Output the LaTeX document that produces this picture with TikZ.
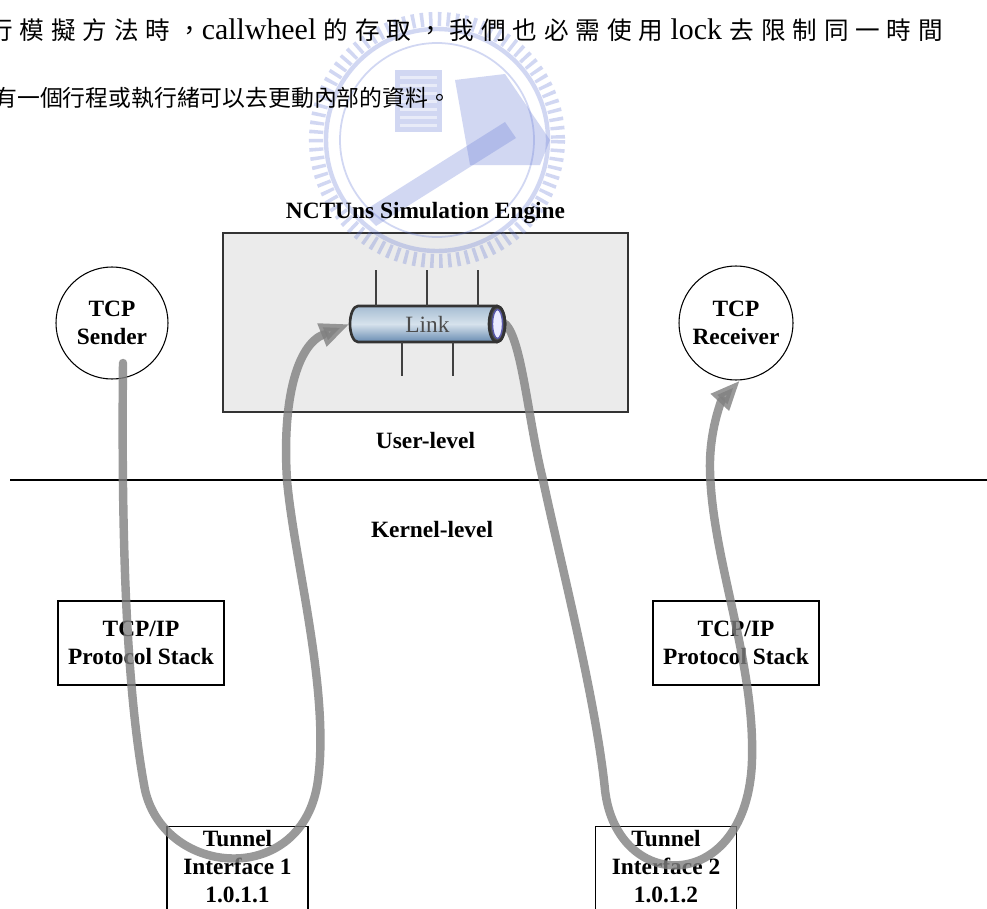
\documentclass[tikz,border=0pt]{standalone}
\usepackage{fontspec}
\setmainfont{Liberation Serif}
\newfontfamily\zhfont{Noto Sans CJK TC}
\newfontfamily\zhwidefont[LetterSpace=28]{Noto Sans CJK TC}
\usetikzlibrary{arrows.meta,calc,backgrounds,positioning}
\pgfdeclarelayer{front}
\pgfsetlayers{background,main,front}

\definecolor{boxgray}{RGB}{235,235,235}
\definecolor{flowgray}{RGB}{128,128,128}
\definecolor{logoblue}{RGB}{105,125,215}
\definecolor{pipetop}{RGB}{165,188,210}
\definecolor{pipemid}{RGB}{214,226,236}
\definecolor{pipebot}{RGB}{105,140,178}
\newcommand{\px}{0.02cm}
\newcommand{\lblfont}{\fontsize{13.3}{16}\selectfont\bfseries}
\newcommand{\zh}{\zhfont\fontsize{13}{20}\selectfont}
\newcommand{\zhw}{\zhwidefont\fontsize{14}{20}\selectfont}

\begin{document}
\begin{tikzpicture}[x=\px, y=-\px,
  lbl/.style={font=\lblfont, align=center, inner sep=0},
  engine/.style={draw=black!80, fill=boxgray, line width=.8pt, minimum width=405*\px, minimum height=179*\px, inner sep=0},
  proc/.style={circle, draw, line width=.6pt, font=\lblfont, align=center, minimum size=112*\px, inner sep=0},
  stack/.style={draw, line width=.6pt, font=\lblfont, align=center, minimum width=166*\px, minimum height=84*\px, inner sep=0},
  tunnel/.style={draw, line width=.6pt, font=\lblfont, align=center, minimum width=141*\px, anchor=north, inner xsep=0, inner ysep=2pt},
  flow/.style={draw=flowgray, opacity=.8, line width=4.8pt, line cap=round, -{Triangle[length=17pt,width=13pt]}},
  stub/.style={draw=black!75, line width=.7pt}]
\useasboundingbox (0,0) rectangle (987,909);
\clip (0,0) rectangle (987,909);

\begin{scope}[on background layer]
\fill[white] (0,0) rectangle (987,909);
\node[engine] (engine) at (425.5,322.5) {};
% school emblem behind the text
\begin{scope}[logoblue, opacity=.3]
\draw[line width=8pt, dash pattern=on 2pt off 3pt] (437,140) circle (121);
\draw[line width=2.5pt] (437,140) circle (111);
\draw[line width=1pt] (437,140) circle (97);
\fill (395,70) rectangle (442,132);
\fill (455,80) -- (505,74) -- (550,140) -- (540,165) -- (470,165) -- cycle;
\fill (362,212) -- (505,122) -- (516,138) -- (376,226) -- cycle;
\end{scope}
\foreach \yy in {76,84,...,124}
  \fill[white, opacity=.5] (400,\yy) rectangle (437,\yy+3);
\end{scope}

\node[anchor=west, inner sep=0, font=\fontsize{17}{20}\selectfont] (line1) at (-12,30)
  {{\zhw 行模擬方法時，}callwheel {\zhw 的存取，我們也必需使用} lock {\zhw 去限制同一時間}};
\node[anchor=west, inner sep=0, font=\fontsize{16}{20}\selectfont] (line2) at (-6,98)
  {{\zh 有一個行程或執行緒可以去更動內部的資料。}};

\node[lbl, above=4.5pt of engine] (title) {NCTUns Simulation Engine};
\node[lbl, below=11pt of engine] (user) {User-level};
\draw[line width=.7pt] (10,480) -- (987,480);
\node[lbl] (kernel) at (432,530) {Kernel-level};

\node[proc] (sender) at (112,323) {TCP\\Sender};
\node[proc, minimum size=114*\px] (receiver) at (736,323) {TCP\\Receiver};
\node[stack] (stack1) at (141,643) {TCP/IP\\Protocol Stack};
\node[stack] (stack2) at (736,643) {TCP/IP\\Protocol Stack};
\node[tunnel] (tun1) at (237.5,826) {Tunnel\\Interface 1\\1.0.1.1\rule[-9pt]{0pt}{0pt}};
\node[tunnel] (tun2) at (666,826) {Tunnel\\Interface 2\\1.0.1.2\rule[-9pt]{0pt}{0pt}};

\begin{pgfonlayer}{front}
\coordinate (pipec) at (427.5,324);
\shadedraw[top color=pipetop, bottom color=pipebot, middle color=pipemid, draw=black!80, line width=1.5pt]
  ($(pipec)+(-69.5,-18)$) -- ++(139,0) arc (-90:90:8 and 18) -- ++(-139,0) arc (90:270:8 and 18) -- cycle;
\filldraw[fill=black!70, draw=black!80, line width=1.5pt] ($(pipec)+(69.5,0)$) ellipse (8 and 18);
\filldraw[fill=white!92!blue, draw={rgb,255:red,90;green,90;blue,170}, line width=.8pt] ($(pipec)+(70,0)$) ellipse (5 and 14.5);
\node[inner sep=0, minimum width=155*\px, minimum height=36*\px, font=\fontsize{13.3}{16}\selectfont, text=black!70] (link) at (pipec) {Link};
\foreach \dx in {-51.5,-0.5,50.5}
  \draw[stub] ($(link.north)+(\dx,0)$) -- ++(0,-36);
\foreach \dx in {-25.5,25.5}
  \draw[stub] ($(link.south)+(\dx,0)$) -- ++(0,34);
\end{pgfonlayer}

\draw[flow] ($(sender.center)+(11,40)$) .. controls (121,560) and (128,700) .. (145,790)
  .. controls (165,878) and (304,888) .. (318,780)
  .. controls (330,690) and (294,560) .. (287,480)
  .. controls (282,400) and (297,345) .. (link.west);
\draw[flow] (link.east) .. controls (522,340) and (528,420) .. (543,480)
  .. controls (560,560) and (596,700) .. (605,790)
  .. controls (617,895) and (748,895) .. (752,760)
  .. controls (755,660) and (712,560) .. (710,470)
  .. controls (709,430) and (722,400) .. (receiver.274);
\end{tikzpicture}
\end{document}
